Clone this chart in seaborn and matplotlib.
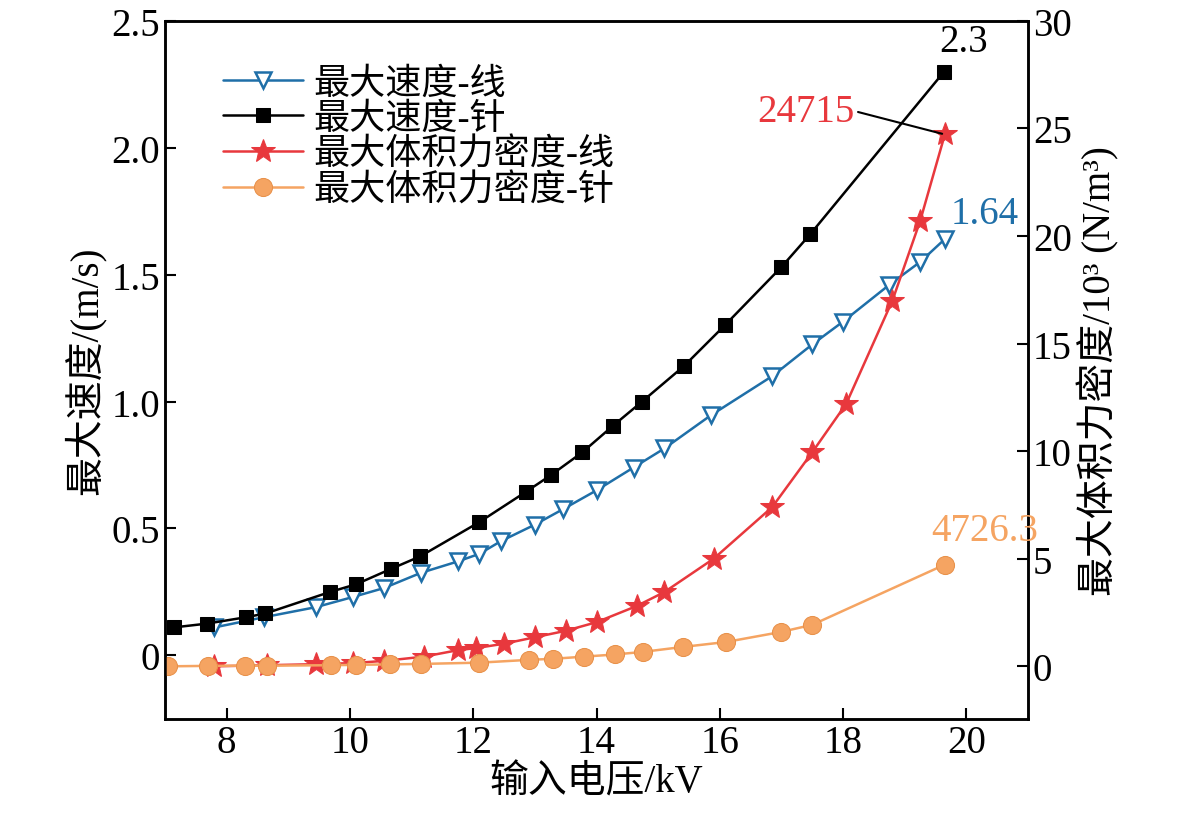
import matplotlib
matplotlib.use("Agg")
import matplotlib.pyplot as plt
import pandas as pd
import seaborn as sns

# 最大速度-针 (m/s)
needle_v_x = [7.14, 7.68, 8.31, 8.63, 9.68, 10.1, 10.66, 11.14, 12.1, 12.86, 13.26, 13.77,
              14.27, 14.74, 15.42, 16.08, 17.0, 17.47, 19.64]
needle_v_y = [0.11, 0.125, 0.15, 0.165, 0.25, 0.28, 0.34, 0.39, 0.525, 0.645, 0.71, 0.80,
              0.905, 1.0, 1.14, 1.30, 1.53, 1.66, 2.30]

# 最大速度-线 (m/s)
wire_v_x = [7.8, 8.6, 9.45, 10.05, 10.55, 11.15, 11.75, 12.1, 12.45, 13.0, 13.45, 14.0,
            14.6, 15.1, 15.85, 16.85, 17.5, 18.0, 18.75, 19.25, 19.65]
wire_v_y = [0.11, 0.15, 0.19, 0.23, 0.265, 0.325, 0.37, 0.40, 0.45, 0.515, 0.575, 0.65,
            0.74, 0.815, 0.945, 1.10, 1.225, 1.315, 1.46, 1.55, 1.64]

# 最大体积力密度-线 (10^3 N/m^3)
wire_f_x = [7.8, 8.65, 9.45, 10.05, 10.55, 11.2, 11.75, 12.05, 12.5, 13.0, 13.5, 14.0,
            14.65, 15.1, 15.9, 16.85, 17.5, 18.05, 18.8, 19.25, 19.65]
wire_f_y = [0.0, 0.05, 0.1, 0.15, 0.25, 0.45, 0.75, 0.85, 1.05, 1.35, 1.65, 2.05,
            2.8, 3.45, 5.0, 7.4, 9.95, 12.2, 17.0, 20.7, 24.715]

# 最大体积力密度-针 (10^3 N/m^3)
needle_f_x = [7.05, 7.7, 8.3, 8.65, 9.7, 10.1, 10.65, 11.15, 12.1, 12.9, 13.3, 13.8,
              14.3, 14.75, 15.4, 16.1, 17.0, 17.5, 19.65]
needle_f_y = [0.0, 0.02, 0.03, 0.03, 0.05, 0.07, 0.09, 0.11, 0.17, 0.3, 0.35, 0.45,
              0.55, 0.67, 0.9, 1.13, 1.6, 1.93, 4.7263]

BLUE = "#1f6fa8"
RED = "#e8383d"
ORANGE = "#f5a462"

sns.set_style("ticks")
plt.rcParams["font.family"] = ["Liberation Serif", "Noto Sans CJK SC"]
plt.rcParams["text.color"] = "black"
plt.rcParams["axes.labelcolor"] = "black"
plt.rcParams["xtick.color"] = "black"
plt.rcParams["ytick.color"] = "black"
plt.rcParams["axes.edgecolor"] = "black"
plt.rcParams["xtick.direction"] = "in"
plt.rcParams["ytick.direction"] = "in"
FS = 28

fig = plt.figure(figsize=(11.81, 8.37), dpi=100)
ax = fig.add_axes([0.1397, 0.140, 0.7308, 0.834])
ax2 = ax.twinx()

sns.lineplot(x=wire_v_x, y=wire_v_y, ax=ax, color=BLUE, marker="v", markersize=12,
             markerfacecolor="white", markeredgecolor=BLUE, markeredgewidth=1.8,
             linewidth=1.8, label="最大速度-线", legend=False)
sns.lineplot(x=needle_v_x, y=needle_v_y, ax=ax, color="black", marker="s", markersize=10,
             markeredgecolor="black", linewidth=1.8, label="最大速度-针", legend=False)
sns.lineplot(x=wire_f_x, y=wire_f_y, ax=ax2, color=RED, marker="*", markersize=18,
             markeredgecolor=RED, linewidth=1.8, label="最大体积力密度-线", legend=False)
sns.lineplot(x=needle_f_x, y=needle_f_y, ax=ax2, color=ORANGE, marker="o", markersize=13,
             markeredgecolor="#e8914a", linewidth=1.8, label="最大体积力密度-针", legend=False)

ax.set_xlim(7, 21)
ax.set_ylim(-0.25, 2.5)
ax2.set_ylim(-2.44, 30)
ax.set_xticks([8, 10, 12, 14, 16, 18, 20])
ax.set_yticks([0, 0.5, 1.0, 1.5, 2.0, 2.5])
ax.set_yticklabels(["0", "0.5", "1.0", "1.5", "2.0", "2.5"])
ax2.set_yticks([0, 5, 10, 15, 20, 25, 30])
for a in (ax, ax2):
    a.tick_params(labelsize=FS, length=8, width=1.5)
    for s in a.spines.values():
        s.set_linewidth(1.8)

ax.set_xlabel("输入电压/kV", fontsize=FS, labelpad=2)
ax.set_ylabel("最大速度/(m/s)", fontsize=FS)
ax2.set_ylabel("最大体积力密度/10³ (N/m³)", fontsize=FS)

ax.annotate("2.3", (needle_v_x[-1], needle_v_y[-1]), xytext=(19.95, 2.42),
            fontsize=FS, color="black", ha="center", va="center")
ax.annotate("1.64", (wire_v_x[-1], wire_v_y[-1]), xytext=(20.3, 1.74),
            fontsize=FS, color=BLUE, ha="center", va="center")
ax2.annotate("24715", (wire_f_x[-1], wire_f_y[-1]), xytext=(17.4, 25.8),
             fontsize=FS, color=RED, ha="center", va="center",
             arrowprops=dict(arrowstyle="-", color="black", lw=1.5, shrinkA=0, shrinkB=2,
                             relpos=(1.0, 0.5)))
ax2.annotate("4726.3", (needle_f_x[-1], needle_f_y[-1]), xytext=(20.3, 6.3),
             fontsize=FS, color=ORANGE, ha="center", va="center")

h1, l1 = ax.get_legend_handles_labels()
h2, l2 = ax2.get_legend_handles_labels()
ax.legend(h1 + h2, l1 + l2, loc="upper left", bbox_to_anchor=(0.03, 0.98), frameon=False,
          fontsize=FS - 2, handlelength=2.2, labelspacing=0.05, handletextpad=0.3)

fig.savefig("out.png", dpi=100)
